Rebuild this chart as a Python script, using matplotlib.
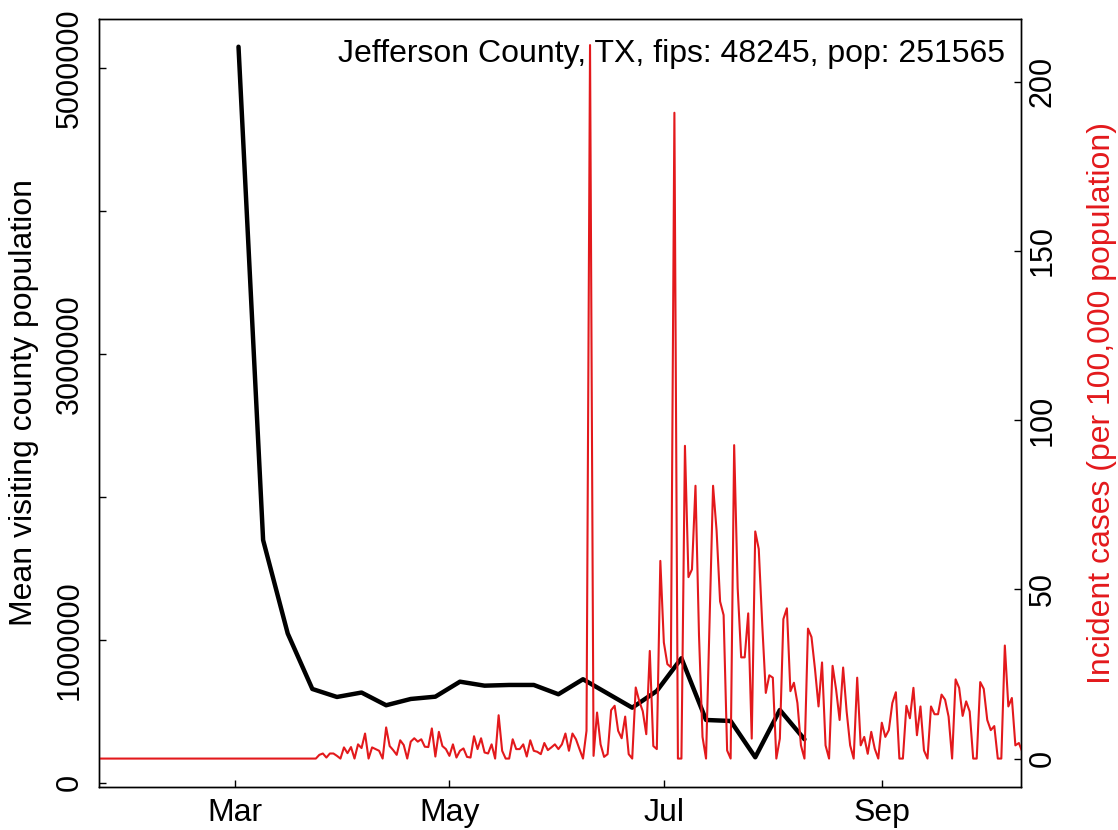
import matplotlib
matplotlib.use('Agg')
import matplotlib.pyplot as plt
import pandas as pd

plt.rcParams['font.family'] = ['Liberation Sans', 'DejaVu Sans']

RED = '#E3191C'

# weekly mean visiting county population (black line)
visit_dates = ['2020-03-02', '2020-03-09', '2020-03-16', '2020-03-23', '2020-03-30',
               '2020-04-06', '2020-04-13', '2020-04-20', '2020-04-27', '2020-05-04',
               '2020-05-11', '2020-05-18', '2020-05-25', '2020-06-01', '2020-06-08',
               '2020-06-22', '2020-06-29', '2020-07-06', '2020-07-13', '2020-07-20',
               '2020-07-27', '2020-08-03', '2020-08-10']
visit_pop = [5150000, 1698000, 1044000, 656000, 600000,
             631000, 542000, 586000, 602000, 707000,
             679000, 684000, 684000, 619000, 724000,
             525000, 642000, 871000, 439000, 432000,
             178000, 509000, 304000]

# daily incident cases per 100,000 (red line), starting 2020-01-22
case_start = '2020-01-22'
cases_jan22_mar23 = [0.0] * 62
cases_mar24_jun9 = [0, 1.1, 1.5, 0.3, 1.5, 1.5, 0.8, 0, 3.3, 1.6,
                    3.4, 0, 4.2, 3.1, 7.4, 0, 3.3, 2.8, 2.3, 0,
                    9.2, 3.7, 2.5, 1.1, 5.4, 4.0, 0, 5.0, 6.0, 5.0,
                    5.7, 3.5, 3.4, 8.9, 0.6, 7.9, 3.7, 2.8, 0.8, 4.2,
                    0.3, 2.3, 3.0, 0.5, 0.3, 6.6, 2.8, 6.0, 1.8, 1.5,
                    4.2, 0, 12.8, 2.3, 0, 0, 5.7, 2.8, 2.8, 4.2,
                    0.6, 5.4, 2.3, 2.0, 1.3, 4.6, 2.5, 3.3, 4.2, 2.8,
                    4.2, 7.4, 2.3, 7.4, 5.7, 2.8, 0, 8.2]
cases_jun10 = [210.8]
cases_jun11_jul3 = [0.8, 13.6, 4.2, 0.5, 1.3, 14.3, 15.6, 8.2, 6.0, 12.4,
                    1.3, 0, 21.0, 17.0, 14.0, 7.2, 31.8, 3.7, 2.8, 58.4,
                    34.3, 27.9, 27.0]
cases_jul4 = [190.8]
cases_jul5_oct11 = [0, 0, 92.4, 53.6, 55.9, 80.6, 36.4, 6.4, 0, 40.0,
                    80.6, 67.4, 46.4, 42.4, 2.4, 0, 92.6, 50.4, 29.9, 29.9,
                    42.9, 5.9, 67.1, 61.9, 39.4, 19.4, 24.6, 23.9, 0, 5.9,
                    41.2, 44.4, 19.9, 22.4, 16.4, 3.9, 0, 38.4, 35.9, 26.4,
                    15.4, 28.4, 3.9, 0, 27.4, 20.4, 11.4, 26.9, 13.9, 3.9,
                    0, 23.9, 3.9, 6.4, 1.4, 7.9, 2.9, 0, 10.6, 6.4,
                    8.4, 16.4, 19.6, 0, 0, 15.6, 11.9, 20.9, 6.9, 15.4,
                    2.4, 0, 15.4, 13.1, 13.1, 18.9, 17.4, 12.4, 0, 23.4,
                    20.9, 12.6, 16.9, 13.9, 0, 0, 22.6, 20.6, 11.4, 8.4,
                    9.6, 0, 0, 33.4, 15.4, 17.9, 3.9, 4.6, 1.9]
cases = (cases_jan22_mar23 + cases_mar24_jun9 + cases_jun10 +
         cases_jun11_jul3 + cases_jul4 + cases_jul5_oct11)

month_ticks = ['2020-03-01', '2020-05-01', '2020-07-01', '2020-09-01']
month_labels = ['Mar', 'May', 'Jul', 'Sep']
left_ticks = [0, 1000000, 2000000, 3000000, 4000000, 5000000]
left_labels = ['0', '1000000', '', '3000000', '', '5000000']
right_ticks = [0, 50, 100, 150, 200]

title_text = 'Jefferson County, TX, fips: 48245, pop: 251565'

W, H = 1118, 830
fig = plt.figure(figsize=(W / 100, H / 100), dpi=100)
ax = fig.add_axes([99.3 / W, 1 - 787 / H, (1021 - 99.3) / W, (787 - 19) / H])

ax.plot(pd.to_datetime(visit_dates), visit_pop, color='black', lw=3.2,
        solid_capstyle='round', solid_joinstyle='round')

ax2 = ax.twinx()
case_dates = pd.date_range(case_start, periods=len(cases), freq='D')
ax2.plot(case_dates, cases, color=RED, lw=1.5)

mar1 = pd.Timestamp('2020-03-01')
ax.set_xlim(mar1 - pd.Timedelta(days=38.6), mar1 + pd.Timedelta(days=223.6))
ax.set_ylim(-30000, 5344000)
ax2.set_ylim(-8.4, 218.5)

ax.set_xticks(pd.to_datetime(month_ticks))
ax.set_xticklabels(month_labels)
ax.set_yticks(left_ticks)
ax.set_yticklabels(left_labels)
ax2.set_yticks(right_ticks)
ax2.set_yticklabels([str(t) for t in right_ticks])

ax.tick_params(axis='x', direction='in', length=5, width=1.0, labelsize=23, pad=8)
ax.tick_params(axis='y', direction='in', length=5, width=1.0, labelsize=22, pad=10.5)
ax2.tick_params(axis='y', direction='in', length=5, width=1.0, labelsize=22, pad=5,
                labelcolor='black')
for lab in ax.get_yticklabels():
    lab.set_rotation(90)
    lab.set_va('center')
for lab in ax2.get_yticklabels():
    lab.set_rotation(90)
    lab.set_va('center')

for a in (ax, ax2):
    for s in a.spines.values():
        s.set_linewidth(1.0)

fig.text(24 / W, 1 - 403 / H, 'Mean visiting county population', rotation=90,
         ha='center', va='center', fontsize=23)
fig.text(1102 / W, 1 - 403 / H, 'Incident cases (per 100,000 population)', rotation=90,
         ha='center', va='center', fontsize=23, color=RED)
fig.text(1005 / W, 1 - 62 / H, title_text, ha='right', va='baseline', fontsize=23)

fig.savefig('out.png', dpi=100)
